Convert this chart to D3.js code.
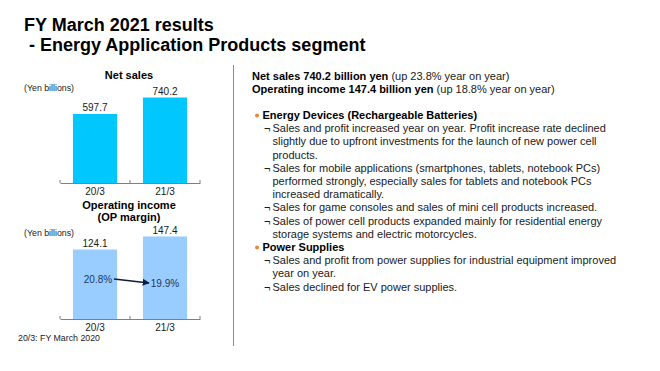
<!DOCTYPE html>
<html>
<head>
<meta charset="utf-8">
<script src="https://cdnjs.cloudflare.com/ajax/libs/d3/7.8.5/d3.min.js"></script>
<style>
  html, body { margin: 0; padding: 0; background: #fff; }
  svg { display: block; font-family: "Liberation Sans", Arial, sans-serif; }
</style>
</head>
<body>
<svg id="chart" width="660" height="371"></svg>
<script>
// data
var years = ["20/3", "21/3"];
var netSales = [597.7, 740.2];
var opIncome = [124.1, 147.4];
var opMargin = [20.8, 19.9];

var titleLines = ["FY March 2021 results", " - Energy Application Products segment"];
var headlines = [
  ["Net sales 740.2 billion yen", " (up 23.8% year on year)"],
  ["Operating income 147.4 billion yen", " (up 18.8% year on year)"]
];
var sections = [
  { head: "Energy Devices (Rechargeable Batteries)",
    items: [
      ["Sales and profit increased year on year. Profit increase rate declined",
       "slightly due to upfront investments for the launch of new power cell",
       "products."],
      ["Sales for mobile applications (smartphones, tablets, notebook PCs)",
       "performed strongly, especially sales for tablets and notebook PCs",
       "increased dramatically."],
      ["Sales for game consoles and sales of mini cell products increased."],
      ["Sales of power cell products expanded mainly for residential energy",
       "storage systems and electric motorcycles."]
    ] },
  { head: "Power Supplies",
    items: [
      ["Sales and profit from power supplies for industrial equipment improved",
       "year on year."],
      ["Sales declined for EV power supplies."]
    ] }
];

var svg = d3.select("#chart");
var ink = "#1a1a1a";

// title
svg.selectAll("text.title").data(titleLines).enter().append("text")
  .attr("class", "title")
  .attr("x", 24).attr("y", function (d, i) { return 31 + i * 20; })
  .attr("font-size", 18).attr("font-weight", "bold").attr("fill", "#000")
  .attr("xml:space", "preserve")
  .text(function (d) { return d; });

// shared x band scale for both charts
var x = d3.scaleBand().domain(years).range([60, 200]).paddingInner(0.37).paddingOuter(0.185);

function drawChart(opts) {
  var g = svg.append("g");
  var y = d3.scaleLinear().domain([0, opts.max]).range([opts.base, opts.top]);

  opts.title.forEach(function (t, i) {
    g.append("text").attr("x", 129).attr("y", opts.titleY + i * 12)
      .attr("text-anchor", "middle").attr("font-size", 11).attr("font-weight", "bold")
      .attr("fill", "#000").text(t);
  });
  g.append("text").attr("x", 24).attr("y", opts.unitY)
    .attr("font-size", 8.8).attr("fill", ink).text("(Yen billions)");

  g.selectAll("rect").data(opts.values).enter().append("rect")
    .attr("x", function (d, i) { return x(years[i]); })
    .attr("width", x.bandwidth())
    .attr("y", function (d) { return y(d); })
    .attr("height", function (d) { return y(0) - y(d); })
    .attr("fill", opts.color);

  g.selectAll("text.val").data(opts.values).enter().append("text")
    .attr("class", "val")
    .attr("x", function (d, i) { return x(years[i]) + x.bandwidth() / 2; })
    .attr("y", function (d) { return y(d) - 2.5; })
    .attr("text-anchor", "middle").attr("font-size", 10).attr("fill", ink)
    .text(function (d) { return d.toFixed(1); });

  // category axis
  var axis = g.append("g").attr("transform", "translate(0," + opts.base + ")")
    .call(d3.axisBottom(x).tickSize(0).tickPadding(5));
  axis.select(".domain").attr("stroke", "#7f7f7f").attr("stroke-width", 1);
  axis.selectAll("text").attr("font-size", 10).attr("fill", ink)
    .attr("font-family", "Liberation Sans, Arial, sans-serif");
  var seps = [x.range()[0], (x(years[0]) + x.bandwidth() + x(years[1])) / 2, x.range()[1]];
  axis.selectAll("line.sep").data(seps).enter().append("line")
    .attr("class", "sep")
    .attr("x1", function (d) { return d; }).attr("x2", function (d) { return d; })
    .attr("y1", 0).attr("y2", -3)
    .attr("stroke", "#7f7f7f");
  return g;
}

drawChart({ title: ["Net sales"], titleY: 79, unitY: 90.5, values: netSales,
  max: 800, base: 183, top: 90.6, color: "#00c8fe" });

var op = drawChart({ title: ["Operating income", "(OP margin)"], titleY: 209, unitY: 235.5,
  values: opIncome, max: 160, base: 319, top: 229.4, color: "#99ccff" });

// margin labels and arrow
var marginPos = [{ dx: 3, y: 282.5 }, { dx: 0, y: 286.5 }];
op.selectAll("text.margin").data(opMargin).enter().append("text")
  .attr("class", "margin")
  .attr("x", function (d, i) { return x(years[i]) + x.bandwidth() / 2 + marginPos[i].dx; })
  .attr("y", function (d, i) { return marginPos[i].y; })
  .attr("text-anchor", "middle").attr("font-size", 10).attr("fill", "#1f3864")
  .text(function (d) { return d.toFixed(1) + "%"; });

svg.append("defs").append("marker")
  .attr("id", "head").attr("viewBox", "0 0 10 10").attr("refX", 9).attr("refY", 5)
  .attr("markerWidth", 5).attr("markerHeight", 5).attr("orient", "auto")
  .append("path").attr("d", "M0,0L10,5L0,10z").attr("fill", "#0d1b3e");
op.append("line")
  .attr("x1", x(years[0]) + x.bandwidth() / 2 + 19).attr("y1", 279)
  .attr("x2", x(years[1]) + x.bandwidth() / 2 - 16).attr("y2", 283)
  .attr("stroke", "#0d1b3e").attr("stroke-width", 1.4).attr("marker-end", "url(#head)");

svg.append("text").attr("x", 18).attr("y", 341)
  .attr("font-size", 8.8).attr("fill", ink).text("20/3: FY March 2020");

// divider
svg.append("line").attr("x1", 233.5).attr("x2", 233.5).attr("y1", 65).attr("y2", 346)
  .attr("stroke", "#8c8c8c").attr("stroke-width", 1);

// right text block
var fs = 11;
headlines.forEach(function (h, i) {
  var t = svg.append("text").attr("x", 252).attr("y", 79.5 + i * 13)
    .attr("font-size", fs).attr("fill", "#000").attr("xml:space", "preserve");
  t.append("tspan").attr("font-weight", "bold").text(h[0]);
  t.append("tspan").attr("fill", ink).text(h[1]);
});

var lineY = 119, step = 13.2;
sections.forEach(function (s) {
  svg.append("circle").attr("cx", 257).attr("cy", lineY - 3.6).attr("r", 2)
    .attr("fill", "#e5883a");
  svg.append("text").attr("x", 262.5).attr("y", lineY)
    .attr("font-size", fs).attr("font-weight", "bold").attr("fill", "#000").text(s.head);
  lineY += step;
  s.items.forEach(function (item) {
    svg.append("text").attr("x", 264).attr("y", lineY)
      .attr("font-size", fs).attr("fill", ink).text("\u00ac");
    item.forEach(function (ln) {
      svg.append("text").attr("x", 272.5).attr("y", lineY)
        .attr("font-size", fs).attr("fill", ink).text(ln);
      lineY += step;
    });
  });
});
</script>
</body>
</html>
